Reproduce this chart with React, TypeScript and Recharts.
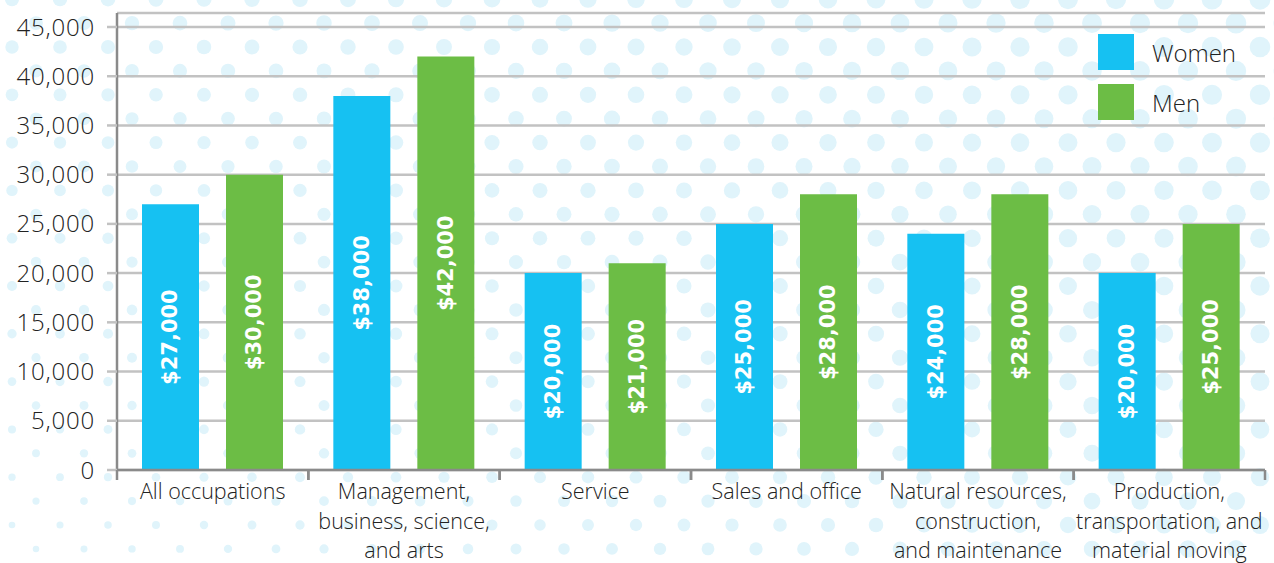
import React from 'react';
import { BarChart, Bar, XAxis, YAxis, CartesianGrid, LabelList } from 'recharts';

const categories = [
  'All occupations',
  'Management, business, science, and arts',
  'Service',
  'Sales and office',
  'Natural resources, construction, and maintenance',
  'Production, transportation, and material moving',
];
const categoryLines = [
  ['All occupations'],
  ['Management,', 'business, science,', 'and arts'],
  ['Service'],
  ['Sales and office'],
  ['Natural resources,', 'construction,', 'and maintenance'],
  ['Production,', 'transportation, and', 'material moving'],
];
const women = [27000, 38000, 20000, 25000, 24000, 20000];
const men = [30000, 42000, 21000, 28000, 28000, 25000];
const yTicks = [0, 5000, 10000, 15000, 20000, 25000, 30000, 35000, 40000, 45000];
const seriesNames = ['Women', 'Men'];

const data = categories.map((name, i) => ({ name, women: women[i], men: men[i] }));

const W = 1274;
const H = 563;
const TOP = 13;
const LEFT = 117;
const RIGHT = 9;
const XAXIS_H = 93;
const PLOT_BOTTOM = H - XAXIS_H;
const BAND = (W - LEFT - RIGHT) / categories.length;
// axis runs a little above the 45,000 line
const Y_MAX = 45000 * (PLOT_BOTTOM - TOP) / (PLOT_BOTTOM - 27);

const BLUE = '#16c1f2';
const GREEN = '#6cbd45';
const FONT = '"Open Sans", sans-serif';

function Dots() {
  const circles = [];
  for (let i = 0; i < 26; i++) {
    const y = 47 + (i - 2) * 23.9;
    const off = i % 2 === 0 ? 12 : 36;
    for (let x = off; x < W + 24; x += 48) {
      const s = x / W;
      const t = y / H;
      const r = (7 - 4 * t) * (1 - s) + (10.5 - 1.5 * t) * s;
      circles.push(<circle key={i + '-' + x} cx={x} cy={y} r={r} fill="#e0f4fb" />);
    }
  }
  return (
    <svg width={W} height={H} style={{ position: 'absolute', left: 0, top: 0 }}>
      {circles}
    </svg>
  );
}

function CategoryTick(props: any) {
  const { x, index } = props;
  const lines = categoryLines[index] || [];
  return (
    <g>
      <line x1={x - BAND / 2} x2={x - BAND / 2} y1={PLOT_BOTTOM} y2={PLOT_BOTTOM + 10} stroke="#8a8a8a" strokeWidth={2.5} />
      <line x1={x + BAND / 2} x2={x + BAND / 2} y1={PLOT_BOTTOM} y2={PLOT_BOTTOM + 10} stroke="#8a8a8a" strokeWidth={2.5} />
      {lines.map((l, k) => (
        <text key={k} x={x} y={PLOT_BOTTOM + 29 + k * 29.5} textAnchor="middle" fontFamily={FONT} fontWeight={300}
          fontSize={21.5} fill="#222">
          {l}
        </text>
      ))}
    </g>
  );
}

function ValueLabel(props: any) {
  const { x, y, width, height, value } = props;
  const cx = x + width / 2;
  const cy = y + height / 2;
  return (
    <text x={cx} y={cy} transform={`rotate(-90 ${cx} ${cy})`} textAnchor="middle" dominantBaseline="central"
      fontFamily="'DejaVu Sans', sans-serif" fontWeight="bold" fontSize={21} fill="#fff">
      {'$' + Number(value).toLocaleString('en-US')}
    </text>
  );
}

function LegendBox() {
  const colors = [BLUE, GREEN];
  return (
    <div style={{ position: 'absolute', left: 1098, top: 34 }}>
      {seriesNames.map((label, i) => (
        <div key={label} style={{ display: 'flex', alignItems: 'center', height: 36, marginBottom: i === 0 ? 14 : 0 }}>
          <div style={{ width: 36, height: 36, background: colors[i] }} />
          <span style={{ marginLeft: 18, fontFamily: FONT, fontWeight: 300, fontSize: 24, color: '#222' }}>{label}</span>
        </div>
      ))}
    </div>
  );
}

export default function App() {
  return (
    <div style={{ position: 'fixed', left: 0, top: 0, width: W, height: H, background: '#fff', overflow: 'hidden' }}>
      <Dots />
      <div style={{ position: 'absolute', left: 0, top: 0 }}>
        <BarChart width={W} height={H} data={data} margin={{ top: TOP, right: RIGHT, left: 0, bottom: 0 }} barSize={57} barGap={27}>
          <CartesianGrid vertical={false} stroke="#c2c2c2" strokeWidth={2.5} />
          <XAxis dataKey="name" height={XAXIS_H} axisLine={{ stroke: '#8a8a8a', strokeWidth: 2.5 }} tickLine={false}
            interval={0} tick={<CategoryTick />} />
          <YAxis width={LEFT} domain={[0, Y_MAX]} ticks={yTicks} interval={0}
            axisLine={{ stroke: '#8a8a8a', strokeWidth: 2.5 }} tickLine={{ stroke: '#c2c2c2', strokeWidth: 2.5 }}
            tickSize={10} tickMargin={12} tickFormatter={(v: number) => v.toLocaleString('en-US')}
            tick={{ fontFamily: FONT, fontWeight: 300, fontSize: 24, fill: '#222', letterSpacing: 0.8 }} />
          <Bar dataKey="women" name={seriesNames[0]} fill={BLUE} isAnimationActive={false}>
            <LabelList dataKey="women" content={<ValueLabel />} />
          </Bar>
          <Bar dataKey="men" name={seriesNames[1]} fill={GREEN} isAnimationActive={false}>
            <LabelList dataKey="men" content={<ValueLabel />} />
          </Bar>
        </BarChart>
      </div>
      <LegendBox />
    </div>
  );
}
